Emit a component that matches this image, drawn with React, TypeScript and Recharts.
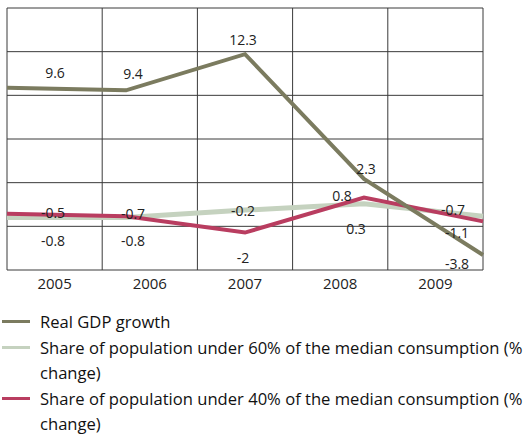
import React from 'react';
import { LineChart, Line, XAxis, YAxis, CartesianGrid, Legend, LabelList } from 'recharts';

const years = ['2005', '2006', '2007', '2008', '2009'];
const gdpGrowth = [9.6, 9.4, 12.3, 2.3, -3.8];
const share60 = [-0.8, -0.8, -0.2, 0.3, -0.7];
const share40 = [-0.5, -0.7, -2, 0.8, -1.1];
const yTicks = [-5, -1.5, 2, 5.5, 9, 12.5, 16];

const seriesNames = {
  gdp: 'Real GDP growth',
  s60: 'Share of population under 60% of the median consumption (% change)',
  s40: 'Share of population under 40% of the median consumption (% change)',
};

const data = years.map((y, i) => ({ year: y, gdp: gdpGrowth[i], s60: share60[i], s40: share40[i] }));

// label offsets (layout only)
const gdpLabelOffsets = [[48, -15], [7, -17], [-2, -15], [2, -10], [-26, 8]];
const s40LabelOffsets = [[46, -1], [7, -3], [-2, 25], [-22, -2], [-26, 11]];
const s60LabelOffsets = [[46, 23], [7, 23], [-2, 0], [-8, 25], [-30, -7]];

const FONT = '"Open Sans", "Noto Sans", sans-serif';
const COLORS = { gdp: '#7b7b5f', s60: '#c5d2bf', s40: '#b93d60' };

const makeLabel = (offsets: number[][]) => (props: any) => {
  const { x, y, value, index } = props;
  const [dx, dy] = offsets[index] || [0, 0];
  return (
    <text x={x + dx} y={y + dy} textAnchor="middle" dominantBaseline="central" fontSize={14} fill="#222" fontFamily={FONT}>
      {value}
    </text>
  );
};

const legendItems = [
  { key: 'gdp', lines: ['Real GDP growth'] },
  { key: 's60', lines: ['Share of population under 60% of the median consumption (%', 'change)'] },
  { key: 's40', lines: ['Share of population under 40% of the median consumption (%', 'change)'] },
];

const LegendContent = () => (
  <div style={{ height: 136, width: 528, fontFamily: FONT, fontSize: 16.6, color: '#111', paddingTop: 9, boxSizing: 'border-box' }}>
    {legendItems.map((it) => (
      <div key={it.key} style={{ display: 'flex', alignItems: 'flex-start', lineHeight: '25.5px' }}>
        <div style={{ width: 28, height: 3, background: (COLORS as any)[it.key], marginLeft: 2, marginTop: 11, marginRight: 10, flexShrink: 0 }} />
        <div style={{ whiteSpace: 'nowrap' }}>
          {it.lines.map((l, i) => (
            <React.Fragment key={i}>
              {l}
              {i < it.lines.length - 1 ? <br /> : null}
            </React.Fragment>
          ))}
        </div>
      </div>
    ))}
  </div>
);

export default function App() {
  return (
    <div style={{ position: 'absolute', left: 0, top: 0, width: 528, height: 436, background: '#fff' }}>
      <LineChart width={528} height={436} data={data} margin={{ top: 8, right: 45, left: 7, bottom: 0 }}>
        <CartesianGrid
          stroke="#3a3a3a"
          strokeWidth={1}
          verticalCoordinatesGenerator={({ offset }: any) =>
            years.map((_, i) => offset.left + (i * offset.width) / years.length).concat([offset.left + offset.width])
          }
        />
        <XAxis xAxisId="pts" dataKey="year" hide />
        <XAxis
          xAxisId="band"
          dataKey="year"
          scale="band"
          axisLine={false}
          tickLine={false}
          tick={{ fontSize: 15, fill: '#222', fontFamily: FONT }}
          height={30}
        />
        <YAxis hide domain={[-5, 16]} ticks={yTicks} type="number" />
        <Legend verticalAlign="bottom" align="left" content={<LegendContent />} wrapperStyle={{ left: 0, width: 528 }} />
        <Line xAxisId="band" dataKey="gdp" stroke="none" dot={false} isAnimationActive={false} legendType="none" />
        <Line xAxisId="pts" name={seriesNames.s60} dataKey="s60" stroke={COLORS.s60} strokeWidth={5} dot={false} isAnimationActive={false}>
          <LabelList dataKey="s60" content={makeLabel(s60LabelOffsets)} />
        </Line>
        <Line xAxisId="pts" name={seriesNames.s40} dataKey="s40" stroke={COLORS.s40} strokeWidth={4} dot={false} isAnimationActive={false}>
          <LabelList dataKey="s40" content={makeLabel(s40LabelOffsets)} />
        </Line>
        <Line xAxisId="pts" name={seriesNames.gdp} dataKey="gdp" stroke={COLORS.gdp} strokeWidth={4} dot={false} isAnimationActive={false}>
          <LabelList dataKey="gdp" content={makeLabel(gdpLabelOffsets)} />
        </Line>
      </LineChart>
    </div>
  );
}
